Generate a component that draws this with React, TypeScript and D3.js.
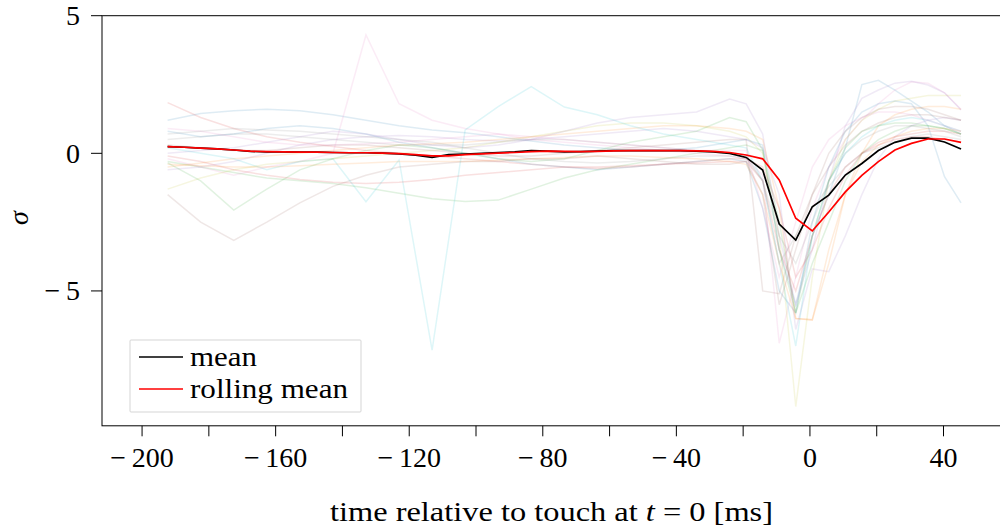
import * as d3 from "d3";

// sample times of the mean curves [ms]
const times = [
  -192.35, -187.4, -182.45, -177.5, -172.55, -167.6, -162.65, -157.7, -152.75, -147.8,
  -142.85, -137.9, -132.95, -128.0, -123.05, -118.1, -113.15, -108.2, -103.25, -98.3,
  -93.35, -88.4, -83.45, -78.5, -73.55, -68.6, -63.65, -58.7, -53.75, -48.8,
  -43.85, -38.9, -33.95, -29.0, -24.05, -19.1, -14.15, -9.2, -4.25, 0.7,
  5.65, 10.6, 15.55, 20.5, 25.45, 30.4, 35.35, 40.3, 45.25,
];

const meanValues = [
  0.24, 0.22, 0.19, 0.16, 0.12, 0.07, 0.05, 0.05, 0.04, 0.04,
  0.03, 0.02, 0.02, 0.01, -0.02, -0.07, -0.15, -0.05, -0.03, 0.0,
  0.03, 0.05, 0.1, 0.08, 0.05, 0.06, 0.08, 0.1, 0.1, 0.1,
  0.1, 0.1, 0.08, 0.05, 0.0, -0.15, -0.61, -2.57, -3.15, -1.94,
  -1.52, -0.79, -0.37, 0.1, 0.4, 0.55, 0.55, 0.41, 0.16,
];

const rollingValues = [
  0.24, 0.22, 0.19, 0.16, 0.12, 0.08, 0.06, 0.05, 0.04, 0.04,
  0.03, 0.02, 0.02, 0.01, -0.01, -0.05, -0.09, -0.09, -0.05, -0.02,
  0.01, 0.03, 0.06, 0.08, 0.07, 0.06, 0.07, 0.09, 0.1, 0.1,
  0.1, 0.1, 0.09, 0.07, 0.03, -0.06, -0.2, -0.97, -2.36, -2.82,
  -2.13, -1.4, -0.8, -0.3, 0.12, 0.36, 0.52, 0.52, 0.4,
];

// individual (faint) traces, coarser sampling
const traceTimes = [
  -192.35, -182.45, -172.55, -162.65, -152.75, -142.85, -132.95, -123.05, -113.15, -103.25,
  -93.35, -83.45, -73.55, -63.65, -53.75, -43.85, -33.95, -24.05, -19.1, -14.15,
  -9.2, -4.25, 0.7, 5.65, 10.6, 15.55, 20.5, 25.45, 30.4, 35.35, 40.3, 45.25,
];

const traceA = [1.2, 1.45, 1.55, 1.6, 1.55, 1.4, 1.2, 1.0, 0.85, 0.75, 0.6, 0.45, 0.3, 0.2, 0.1, 0.1, 0.2, 0.4, 0.5, 0.3, -3.5, -5.5, -3.0, -1.5, 0.2, 2.5, 2.65, 2.3, 1.9, 1.5, 1.0, 0.7];
const traceB = [-0.5, -0.35, -0.2, -0.1, 0.0, 0.1, 0.2, 0.3, 0.35, 0.4, 0.5, 0.6, 0.7, 0.8, 0.9, 1.0, 1.0, 0.9, 0.8, 0.5, -2.0, -6.0, -6.05, -3.5, -1.5, 0.0, 1.0, 1.4, 1.6, 1.7, 1.7, 1.6];
const traceC = [-0.3, -0.5, -0.7, -0.9, -1.0, -1.1, -1.25, -1.45, -1.65, -1.75, -1.7, -1.3, -0.9, -0.6, -0.4, -0.2, 0.0, 0.2, 0.3, 0.1, -2.5, -5.8, -4.0, -2.5, -1.0, 0.0, 0.5, 0.8, 1.0, 1.0, 0.9, 0.7];
const traceD = [1.84, 1.3, 0.9, 0.6, 0.4, 0.25, 0.1, 0.0, -0.1, -0.2, -0.3, -0.4, -0.5, -0.55, -0.5, -0.4, -0.3, -0.2, -0.2, -0.5, -2.0, -4.5, -3.5, -2.0, -0.8, 0.0, 0.4, 0.6, 0.7, 0.8, 0.8, 0.7];
const traceE = [-0.6, -0.5, -0.3, 0.0, 0.3, 0.5, 0.6, 0.65, 0.6, 0.5, 0.45, 0.5, 0.6, 0.7, 0.8, 0.9, 0.8, 0.6, 0.5, 0.2, -1.5, -6.4, -4.2, -4.3, -3.0, -1.5, -0.2, 0.6, 1.0, 1.2, 1.3, 1.2];
const traceF = [0.3, 0.2, 0.1, 0.1, 0.2, 0.3, 0.3, 0.2, 0.1, 0.0, -0.1, -0.1, 0.0, 0.1, 0.2, 0.3, 0.4, 0.5, 0.5, -5.0, -5.1, -3.0, -1.5, -0.5, 0.3, 0.8, 1.1, 1.3, 1.4, 1.4, 1.3, 1.2];
const traceG = [-0.2, -0.5, -0.8, -0.5, -0.3, 0.0, 4.3, 1.8, 1.2, 0.9, 0.7, 0.5, 0.4, 0.3, 0.2, 0.1, 0.0, -0.1, -0.2, -0.8, -6.9, -4.5, -2.0, -0.5, 0.5, 1.2, 1.8, 2.3, 2.6, 2.55, 2.2, 1.6];
const traceH = [0.5, 0.6, 0.7, 0.7, 0.6, 0.5, 0.4, 0.3, 0.3, 0.3, 0.4, 0.5, 0.5, 0.4, 0.3, 0.2, 0.1, 0.0, -0.1, -1.0, -3.0, -4.0, -2.5, -1.0, 0.0, 0.5, 0.8, 1.0, 1.0, 0.9, 0.8, 0.6];
const traceI = [-1.3, -0.9, -0.6, -0.4, -0.3, -0.2, -0.1, 0.0, 0.1, 0.2, 0.4, 0.6, 0.8, 1.0, 1.1, 1.1, 1.0, 0.8, 0.6, 0.0, -3.0, -9.2, -4.5, -1.0, 0.5, 1.2, 1.6, 1.9, 2.0, 2.1, 2.1, 2.1];
const traceJ = [0.2, 0.0, -0.2, -0.6, -0.3, -0.2, -1.76, -0.24, -7.15, 0.85, 1.7, 2.42, 1.68, 1.4, 1.0, 0.7, 0.5, 0.3, 0.2, -1.0, -4.0, -7.0, -3.0, -1.0, 0.0, 0.6, 1.0, 1.2, 1.3, 1.2, 1.0, 0.8];
const traceK = [0.8, 0.6, 0.7, 0.9, 1.0, 0.9, 0.7, 0.4, 0.2, 0.0, -0.2, -0.4, -0.5, -0.6, -0.5, -0.4, -0.3, -0.2, -0.3, -2.0, -5.0, -5.8, -2.5, -0.5, 0.8, 1.5, 1.8, 1.9, 1.8, 1.0, -0.85, -1.8];
const traceL = [-0.4, -0.45, -0.5, -0.5, -0.45, -0.4, -0.35, -0.3, -0.3, -0.3, -0.25, -0.2, -0.15, -0.1, -0.1, -0.15, -0.2, -0.3, -0.4, -1.5, -4.0, -6.0, -6.05, -4.0, -1.5, -0.3, 0.3, 0.6, 0.8, 0.9, 0.9, 0.8];
const traceM = [-0.35, -1.0, -2.06, -1.3, -0.6, -0.2, 0.1, 0.3, 0.2, 0.0, -0.2, -0.3, -0.2, 0.1, 0.4, 0.6, 0.8, 1.3, 1.15, 0.12, -3.5, -5.8, -3.0, -1.0, 0.2, 0.8, 1.0, 1.1, 1.1, 1.0, 0.9, 0.7];
const traceN = [-0.1, -0.3, -0.6, -0.8, -0.95, -1.05, -1.1, -1.05, -0.95, -0.8, -0.7, -0.6, -0.5, -0.5, -0.45, -0.4, -0.35, -0.3, -0.3, -1.0, -3.5, -5.0, -3.0, -1.5, -0.5, 0.0, 0.3, 0.5, 0.6, 0.6, 0.5, 0.4];
const traceO = [0.0, 0.1, 0.2, 0.4, 0.6, 0.8, 0.7, 0.5, 0.3, 0.2, 0.3, 0.5, 0.8, 1.1, 1.3, 1.4, 1.5, 1.97, 1.8, 0.7, -3.0, -5.5, -3.5, -1.0, 1.0, 2.0, 2.3, 2.55, 2.62, 2.48, 2.2, 1.57];
const traceP = [-1.5, -2.5, -3.16, -2.5, -1.8, -1.2, -0.8, -0.5, -0.4, -0.3, -0.3, -0.2, -0.2, -0.1, -0.2, -0.3, -0.4, -0.4, -0.3, -1.5, -5.5, -3.5, -1.5, 0.0, 0.8, 1.3, 1.6, 1.7, 1.7, 1.6, 1.4, 1.2];
const traceQ = [0.9, 0.8, 0.6, 0.4, 0.3, 0.3, 0.35, 0.4, 0.5, 0.6, 0.7, 0.6, 0.5, 0.4, 0.3, 0.2, 0.1, 0.1, 0.1, -2.0, -4.5, -2.5, -0.5, 0.5, 1.0, 1.3, 1.5, 1.5, 1.4, 1.2, 1.0, 0.8];
const traceR = [0.7, 0.8, 0.9, 0.85, 0.8, 0.7, 0.6, 0.5, 0.4, 0.2, 0.0, -0.2, -0.3, -0.35, -0.3, -0.2, -0.1, -0.1, -0.2, -1.0, -4.0, -3.0, -2.0, -1.2, -0.5, 0.0, 0.2, 0.4, 0.6, 0.7, 0.6, 0.5];

const traces = [traceA, traceB, traceC, traceD, traceE, traceF, traceG, traceH, traceI, traceJ, traceK, traceL, traceM, traceN, traceO, traceP, traceQ, traceR];

const tab10 = ["#1f77b4", "#ff7f0e", "#2ca02c", "#d62728", "#9467bd", "#8c564b", "#e377c2", "#7f7f7f", "#bcbd22", "#17becf"];

const xTicks = [-200, -180, -160, -140, -120, -100, -80, -60, -40, -20, 0, 20, 40];
const xTickLabels = [-200, -160, -120, -80, -40, 0, 40];
const yTicks = [5, 0, -5];

const W = 1000;
const H = 531;
const FONT = "'Liberation Serif', 'DejaVu Serif', serif";

// minus sign with a thin gap, like TeX's binary minus
function fmt(v: number) {
  return v < 0 ? "\u2212\u2009" + Math.abs(v) : String(v);
}

export default function App() {
  const x = d3.scaleLinear().domain([-212, 60]).range([102, 1010.3]);
  const y = d3.scaleLinear().domain([-9.9, 5]).range([425.8, 15.7]);

  const line = d3
    .line<[number, number]>()
    .x((d) => x(d[0]))
    .y((d) => y(d[1]));

  const [x0, x1] = x.range();
  const [yb, yt] = y.range();

  return (
    <svg
      width={W}
      height={H}
      style={{ position: "absolute", left: 0, top: 0, background: "#fff" }}
      fontFamily={FONT}
    >
      <defs>
        <clipPath id="plot">
          <rect x={x0} y={yt} width={x1 - x0} height={yb - yt} />
        </clipPath>
      </defs>

      <g clipPath="url(#plot)">
        {traces.map((tr, i) => (
          <path
            key={i}
            d={line(traceTimes.map((t, j) => [t, tr[j]] as [number, number])) || ""}
            fill="none"
            stroke={tab10[i % 10]}
            strokeOpacity={0.14}
            strokeWidth={1.5}
          />
        ))}
        <path
          d={line(times.map((t, j) => [t, meanValues[j]] as [number, number])) || ""}
          fill="none"
          stroke="#000"
          strokeWidth={1.7}
        />
        <path
          d={line(times.map((t, j) => [t, rollingValues[j]] as [number, number])) || ""}
          fill="none"
          stroke="#ff0000"
          strokeWidth={1.7}
        />
      </g>

      {/* frame */}
      <rect x={x0} y={yt} width={x1 - x0} height={yb - yt} fill="none" stroke="#000" strokeWidth={1} />

      {/* x axis */}
      {xTicks.map((t) => (
        <line key={t} x1={x(t)} x2={x(t)} y1={yb} y2={yb + 10.5} stroke="#000" strokeWidth={1} />
      ))}
      {xTickLabels.map((t) => (
        <text key={t} x={x(t)} y={457} textAnchor="middle" dominantBaseline="central" fontSize={28}>
          {fmt(t)}
        </text>
      ))}
      <text x={330} y={521} fontSize={28} textLength={443} lengthAdjust="spacingAndGlyphs">
        time relative to touch at <tspan fontStyle="italic">t</tspan> = 0 [ms]
      </text>

      {/* y axis */}
      {yTicks.map((v) => (
        <line key={v} x1={x0 - 11} x2={x0} y1={y(v)} y2={y(v)} stroke="#000" strokeWidth={1} />
      ))}
      {yTicks.map((v) => (
        <text key={v} x={80} y={y(v)} textAnchor="end" dominantBaseline="central" fontSize={28}>
          {fmt(v)}
        </text>
      ))}
      <text
        transform="translate(18,218) rotate(-90)"
        textAnchor="middle"
        dominantBaseline="central"
        fontSize={28}
        fontStyle="italic"
      >
        σ
      </text>

      {/* legend */}
      <rect x={130} y={340} width={231} height={72} fill="#fff" fillOpacity={0.8} stroke="#d5d5d5" strokeWidth={1} rx={1} />
      <line x1={139} x2={183} y1={357} y2={357} stroke="#000" strokeWidth={1.7} />
      <text x={190} y={356} dominantBaseline="central" fontSize={28} textLength={67} lengthAdjust="spacingAndGlyphs">
        mean
      </text>
      <line x1={139} x2={183} y1={389} y2={389} stroke="#ff0000" strokeWidth={1.7} />
      <text x={190} y={388} dominantBaseline="central" fontSize={28} textLength={158} lengthAdjust="spacingAndGlyphs">
        rolling mean
      </text>
    </svg>
  );
}
